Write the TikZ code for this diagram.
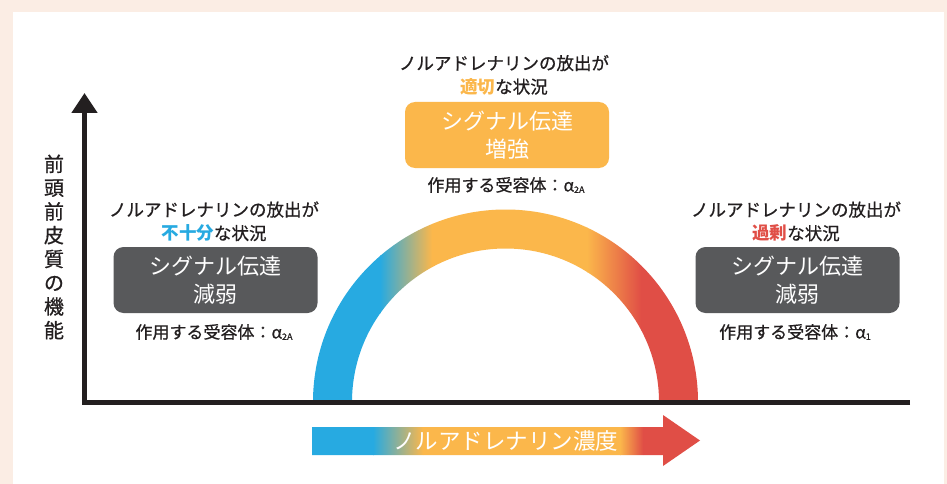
\documentclass[tikz,border=0pt]{standalone}
\usepackage{fontspec}
\setmainfont{Noto Sans CJK JP}[UprightFeatures={FakeBold=0.7}]
\newfontfamily\lightjp{Noto Sans CJK JP}
\usetikzlibrary{arrows.meta}
\definecolor{peach}{HTML}{FBEDE4}
\definecolor{ink}{HTML}{231F20}
\definecolor{cblue}{HTML}{27AAE1}
\definecolor{corange}{HTML}{FBB74B}
\definecolor{cred}{HTML}{E04E46}
\definecolor{cgrey}{HTML}{58595B}
\tikzset{
  hdr/.style={font=\fontsize{17.5}{23.5}\selectfont, align=center, text=ink, inner sep=0pt},
  sigbox/.style={rounded corners=10pt, minimum width=204pt, minimum height=66pt, text=white,
     font=\lightjp\fontsize{22}{27.5}\selectfont, align=center, inner sep=0pt},
  lab/.style={font=\fontsize{17}{20}\selectfont, text=ink, inner sep=0pt},
  axisline/.style={line width=5.5pt, draw=ink, line join=miter, -{Triangle[length=20pt,width=25pt]}},
}
\newcommand{\subtxt}[1]{\raisebox{-1.5pt}{\fontsize{9}{9}\selectfont #1}}
\begin{document}
\begin{tikzpicture}[x=1pt,y=-1pt]
\fill[peach] (0,0) rectangle (947,484);
\fill[white] (13,12) rectangle (944,484);
\useasboundingbox (0,0) rectangle (947,484);

% arc with horizontal gradient
\begin{scope}
\clip (313,402) arc[start angle=180,end angle=360,radius=192.5] -- (659,402)
      arc[start angle=0,end angle=-180,radius=153.5] -- cycle;
\fill[cblue] (305,200) rectangle (380.5,405);
\shade[left color=cblue,right color=corange] (380,200) rectangle (432,405);
\fill[corange] (431.5,200) rectangle (587.5,405);
\shade[left color=corange,right color=cred] (587,200) rectangle (641,405);
\fill[cred] (640.5,200) rectangle (705,405);
\end{scope}

% axes
\coordinate (origin) at (84.5,402.5);
\coordinate (ytip) at (84.5,93);
\coordinate (xend) at (910,402.5);
\draw[axisline] (xend) -- (origin) -- (ytip);

% bottom gradient arrow
\begin{scope}
\clip (312,427) -- (663,427) -- (663,415) -- (700,440.5) -- (663,466) -- (663,455) -- (312,455) -- cycle;
\fill[cblue] (310,410) rectangle (373.5,470);
\shade[left color=cblue,right color=corange] (373,410) rectangle (423,470);
\fill[corange] (422.5,410) rectangle (620.5,470);
\shade[left color=corange,right color=cred] (620,410) rectangle (643,470);
\fill[cred] (642.5,410) rectangle (705,470);
\end{scope}
\node[text=white, font=\lightjp\fontsize{22.5}{22.5}\selectfont, inner sep=0pt] (conc) at (505.5,441) {ノルアドレナリン濃度};

% y label
\node[font=\fontsize{20}{23.75}\selectfont, align=center, text=ink, inner sep=0pt] (ylab) at (54,247)
  {前\\頭\\前\\皮\\質\\の\\機\\能};

% left block
\node[hdr] (lhdr) at (214,221.5) {ノルアドレナリンの放出が\\{\bfseries\color{cblue}不十分}な状況};
\node[sigbox, fill=cgrey] (lbox) at (215.5,280) {シグナル伝達\\減弱};
\node[lab] (llab) at (214,332) {作用する受容体：α\subtxt{2A}};

% centre block
\node[hdr] (chdr) at (504,75) {ノルアドレナリンの放出が\\{\bfseries\color{corange}適切}な状況};
\node[sigbox, fill=corange] (cbox) at (507,135) {シグナル伝達\\増強};
\node[lab] (clab) at (506,185) {作用する受容体：α\subtxt{2A}};

% right block
\node[hdr] (rhdr) at (796,221.5) {ノルアドレナリンの放出が\\{\bfseries\color{cred}過剰}な状況};
\node[sigbox, fill=cgrey] (rbox) at (797.5,280) {シグナル伝達\\減弱};
\node[lab] (rlab) at (795,332) {作用する受容体：α\subtxt{1}};
\end{tikzpicture}
\end{document}
